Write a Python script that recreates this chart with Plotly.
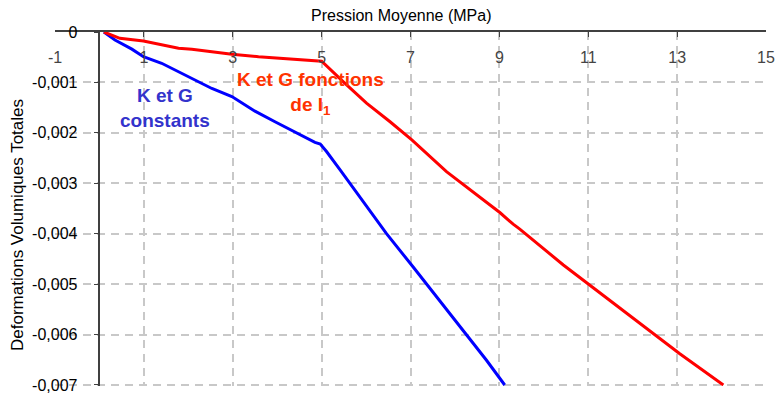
import plotly.graph_objects as go

# courbe bleue : K et G constants
blue_x = [0.10, 0.35, 0.73, 0.99, 1.40, 2.08, 2.53, 2.98, 3.50, 3.95, 4.51,
          4.85, 4.97, 5.11, 5.42, 5.90, 6.46, 7.06, 7.59, 8.19, 8.71, 9.12]
blue_y = [0, -0.00016, -0.00034, -0.00049, -0.00062, -0.00092, -0.00112,
          -0.00128, -0.00157, -0.00178, -0.00204, -0.00219, -0.00222,
          -0.00237, -0.00274, -0.00333, -0.00400, -0.00466, -0.00525,
          -0.00591, -0.00651, -0.00700]

# courbe rouge : K et G fonctions de I1
red_x = [0.10, 0.46, 0.99, 1.40, 1.78, 2.08, 2.98, 3.58, 4.10, 4.93, 5.00,
         5.49, 6.01, 6.54, 7.03, 7.81, 8.56, 9.01, 9.31, 9.46, 10.44, 11.04,
         12.32, 13.06, 14.04]
red_y = [0, -0.000125, -0.00018, -0.00026, -0.00032, -0.00034, -0.00044,
         -0.00049, -0.00052, -0.00058, -0.00058, -0.00099, -0.00141,
         -0.00178, -0.00214, -0.00277, -0.00328, -0.00358, -0.00381,
         -0.00391, -0.00462, -0.00502, -0.00588, -0.00638, -0.00700]

x_ticks = [-1, 1, 3, 5, 7, 9, 11, 13, 15]
x_labels = ['-1', '1', '3', '5', '7', '9', '11', '13', '15']
y_ticks = [0, -0.001, -0.002, -0.003, -0.004, -0.005, -0.006, -0.007]
y_labels = ['0', '-0,001', '-0,002', '-0,003', '-0,004', '-0,005',
            '-0,006', '-0,007']

FONT = 'Liberation Sans, Arial, sans-serif'
GRID = '#c8c8c8'

fig = go.Figure()
fig.add_trace(go.Scatter(x=blue_x, y=blue_y, mode='lines',
                         line=dict(color='#0000ff', width=3)))
fig.add_trace(go.Scatter(x=red_x, y=red_y, mode='lines',
                         line=dict(color='#ff0000', width=3)))

fig.update_layout(
    width=778, height=394,
    margin=dict(l=55, r=12, t=32, b=8),
    paper_bgcolor='white', plot_bgcolor='white',
    showlegend=False,
    font=dict(family=FONT, size=16, color='black'),
    annotations=[
        dict(text='Pression Moyenne (MPa)', xref='paper', yref='paper',
             x=0.488, y=1.048, showarrow=False, xanchor='center',
             yanchor='middle', font=dict(size=16)),
        dict(text='Deformations Volumiques Totales', xref='paper',
             yref='paper', x=-0.052, y=0.455, textangle=-90,
             showarrow=False, xanchor='center', yanchor='middle',
             font=dict(size=17)),
        dict(text='<b>K et G<br>constants</b>', x=1.48, y=-0.00151,
             showarrow=False, font=dict(size=19, color='#3333cc')),
        dict(text='<b>K et G fonctions<br>de I<sub>1</sub></b>', x=4.74,
             y=-0.00122, showarrow=False,
             font=dict(size=19, color='#ff3300')),
    ],
)

fig.update_xaxes(
    range=[-1, 15], side='top', automargin=False,
    tickmode='array', tickvals=x_ticks, ticktext=x_labels,
    ticks='inside', ticklen=5, tickcolor='#404040',
    ticklabelposition='inside', ticklabeloverflow='allow',
    ticklabelstandoff=15,
    showline=True, linecolor='#404040', linewidth=1.5,
    showgrid=True, gridcolor=GRID, griddash='8px,6px', gridwidth=1.5,
    zeroline=False,
)
fig.update_yaxes(
    range=[-0.00702, 0], anchor='free', position=0.0625, automargin=False,
    tickmode='array', tickvals=y_ticks, ticktext=y_labels,
    ticks='outside', ticklen=5, tickcolor='#404040',
    ticklabelstandoff=13,
    showline=True, linecolor='#404040', linewidth=1.5,
    showgrid=True, gridcolor=GRID, griddash='8px,6px', gridwidth=1.5,
    zeroline=False,
)

# pas de marge de page autour du graphique
fig.write_html('out.html', config={'displayModeBar': False},
               post_script="document.body.style.margin='0';")
